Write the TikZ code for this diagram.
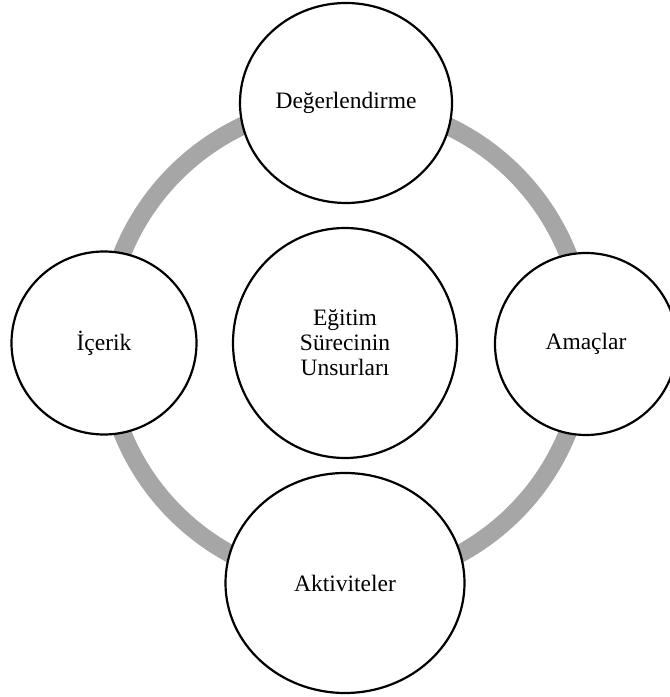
\documentclass[tikz,border=0pt]{standalone}
\usepackage{fontspec}
\setmainfont{Liberation Serif}
\usetikzlibrary{shapes.geometric}
\definecolor{ringgray}{HTML}{A6A6A6}
\begin{document}
\begin{tikzpicture}[x=1pt,y=1pt,
  part/.style={ellipse, draw=black, line width=2.2pt, fill=white,
    inner sep=0pt, align=center,
    font=\fontsize{23.5}{25}\selectfont},
  cycle ring/.style={draw=ringgray, line width=18pt}
]
\useasboundingbox (0,0) rectangle (670,697);
\clip (0,0) rectangle (670,697);
\coordinate (hub) at (345,354);
% the grey cycle that links the four elements
\draw[cycle ring] (hub) circle[radius=240];
% elements of the cycle
\node[part, minimum width=212pt, minimum height=200pt] (deg) at (346,594) {Değerlendirme};
\node[part, minimum width=185pt, minimum height=183pt] (ice) at (104,354) {İçerik};
\node[part, minimum width=182pt, minimum height=182pt] (ama) at (586,353) {Amaçlar};
\node[part, minimum width=239pt, minimum height=220pt] (akt) at (345,114) {Aktiviteler};
% central element
\node[part, minimum width=224pt, minimum height=230pt] (core) at (hub) {Eğitim\\Sürecinin\\Unsurları};
\end{tikzpicture}
\end{document}
